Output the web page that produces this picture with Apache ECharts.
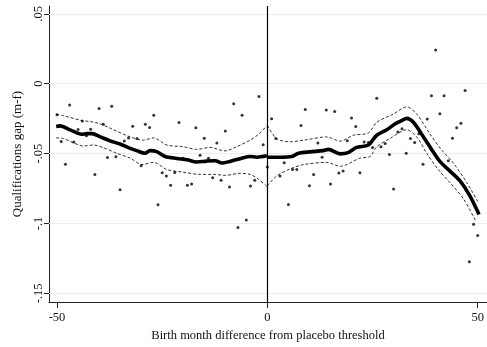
<!DOCTYPE html>
<html>
<head>
<meta charset="utf-8">
<script src="https://cdn.jsdelivr.net/npm/echarts@6/dist/echarts.min.js"></script>
<style>
  html, body { margin: 0; padding: 0; background: #fff; }
  #chart { width: 487px; height: 347px; }
</style>
</head>
<body>
<div id="chart"></div>
<script>
// Binned means of the qualifications gap by birth month distance
const months = [];
for (let m = -50; m <= 50; m++) months.push(m);
const binMeans = [
  -0.0223, -0.0414, -0.0577, -0.0153, -0.0418, -0.0327, -0.0267, -0.0372, -0.0326, -0.0649,
  -0.0177, -0.0291, -0.0528, -0.0162, -0.0523, -0.0759, -0.0411, -0.0389, -0.0304, -0.0393,
  -0.0587, -0.0290, -0.0313, -0.0225, -0.0866, -0.0638, -0.0661, -0.0726, -0.0635, -0.0278,
  -0.0533, -0.0726, -0.0717, -0.0316, -0.0512, -0.0390, -0.0533, -0.0673, -0.0425, -0.0691,
  -0.0339, -0.0740, -0.0143, -0.1029, -0.0225, -0.0976, -0.0733, -0.0691, -0.0092, -0.0437,
  -0.0596,
  -0.0250, -0.0392, -0.0661, -0.0566, -0.0864, -0.0614, -0.0614, -0.0299, -0.0185, -0.0731,
  -0.0649, -0.0425, -0.0526, -0.0188, -0.0717, -0.0199, -0.0640, -0.0624, -0.0409, -0.0246,
  -0.0306, -0.0638, -0.0418, -0.0420, -0.0456, -0.0105, -0.0451, -0.0428, -0.0507, -0.0754,
  -0.0346, -0.0323, -0.0498, -0.0393, -0.0421, -0.0358, -0.0577, -0.0253, -0.0087, 0.0241,
  -0.0215, -0.0087, -0.0551, -0.0390, -0.0316, -0.0283, -0.0048, -0.1274, -0.1006, -0.1087
];

// Local smooth below the threshold
const fitLeftX = [-50.2, -49.3, -46.9, -44.1, -42.9, -41.7, -39.7, -37.4, -35, -32.6, -30.9, -29.1, -27.9, -26.3, -24.3, -21.5, -19.1, -16.8, -14.4, -12.4, -10.8, -8.9, -6.1, -4.1, -2.5, -0.1];
const fitLeftY = [-0.0306, -0.0302, -0.0330, -0.0362, -0.0357, -0.0357, -0.0381, -0.0409, -0.0432, -0.0463, -0.0481, -0.0498, -0.0479, -0.0486, -0.0521, -0.0535, -0.0544, -0.0560, -0.0554, -0.0551, -0.0568, -0.0556, -0.0533, -0.0521, -0.0526, -0.0516];
const upLeftX = [-50.2, -48.5, -44.1, -42.1, -39.7, -37.4, -32.6, -29.5, -27.1, -23.9, -20, -16.8, -13.6, -10.1, -7.3, -4.1, -2.1, -0.1];
const upLeftY = [-0.0218, -0.0229, -0.0264, -0.0271, -0.0288, -0.0318, -0.0381, -0.0404, -0.0388, -0.0439, -0.0451, -0.0470, -0.0456, -0.0481, -0.0451, -0.0404, -0.0362, -0.0300];
const loLeftX = [-50.2, -48.5, -46.1, -43.7, -41.3, -39, -35.8, -32.6, -29.8, -27.1, -23.9, -20, -16, -12.8, -10, -6.5, -4.1, -2.1, -0.1];
const loLeftY = [-0.0388, -0.0392, -0.0423, -0.0446, -0.0439, -0.0458, -0.0498, -0.0533, -0.0579, -0.0563, -0.0614, -0.0633, -0.0649, -0.0649, -0.0656, -0.0642, -0.0649, -0.0684, -0.0735];

// Local smooth above the threshold
const fitRightX = [0, 3, 5.8, 7.4, 10.1, 13.3, 14.5, 17.3, 19.2, 21.2, 24, 26, 28.4, 30.3, 31.9, 33.1, 34.7, 37.1, 39.1, 41, 43.4, 45.8, 48.1, 50.3];
const fitRightY = [-0.0526, -0.0526, -0.0521, -0.0498, -0.0488, -0.0479, -0.0470, -0.0502, -0.0493, -0.0456, -0.0439, -0.0369, -0.0330, -0.0288, -0.0264, -0.0248, -0.0276, -0.0381, -0.0474, -0.0556, -0.0626, -0.0696, -0.0801, -0.0936];
const upRightX = [0, 2.2, 5.4, 8.6, 14.1, 17.3, 20.4, 24, 26, 29.9, 33.1, 35.5, 38.6, 41.4, 44.2, 47.4, 50.1];
const upRightY = [-0.0299, -0.0393, -0.0416, -0.0404, -0.0381, -0.0411, -0.0369, -0.0353, -0.0276, -0.0218, -0.0166, -0.0218, -0.0358, -0.0474, -0.0568, -0.0708, -0.0848];
const loRightX = [0, 2.2, 5.4, 8.6, 14.1, 17.3, 22, 24.4, 26, 29.1, 33.1, 35.5, 37.9, 40.6, 43.4, 46.6, 49.6];
const loRightY = [-0.0731, -0.0661, -0.0610, -0.0579, -0.0563, -0.0591, -0.0533, -0.0521, -0.0451, -0.0393, -0.0330, -0.0381, -0.0498, -0.0614, -0.0708, -0.0824, -0.0987];

// Axis ticks
const xTicks = [-50, 0, 50];
const yTicks = [-0.15, -0.1, -0.05, 0, 0.05];
const yTickLabels = ['-.15', '-.1', '-.05', '0', '.05'];

const pairs = (xs, ys) => xs.map((x, i) => [x, ys[i]]);
const font = 'Liberation Serif';

const fitLine = (xs, ys) => ({
  type: 'line', data: pairs(xs, ys), showSymbol: false, smooth: 0.3, z: 4,
  lineStyle: { color: '#000', width: 3.6 }, silent: true
});
const ciLine = (xs, ys) => ({
  type: 'line', data: pairs(xs, ys), showSymbol: false, smooth: 0.3, z: 3,
  lineStyle: { color: '#333', width: 1, type: [3, 2] }, silent: true
});

const chart = echarts.init(document.getElementById('chart'), null, { renderer: 'canvas' });
chart.setOption({
  animation: false,
  backgroundColor: '#fff',
  grid: { left: 49, right: 0, top: 6, bottom: 38 },
  xAxis: {
    type: 'value', min: -51.9, max: 52.2,
    name: 'Birth month difference from placebo threshold',
    nameLocation: 'middle', nameGap: 25,
    nameTextStyle: { fontFamily: font, fontSize: 12.5, color: '#111' },
    axisLine: { show: true, onZero: false, lineStyle: { color: '#222', width: 1 } },
    axisTick: { show: true, customValues: xTicks, length: 6, lineStyle: { color: '#222' } },
    axisLabel: { customValues: xTicks, fontFamily: font, fontSize: 12.5, color: '#111', margin: 9 },
    splitLine: { show: false }
  },
  yAxis: {
    type: 'value', min: -0.1563, max: 0.0556,
    name: 'Qualifications gap (m-f)',
    nameLocation: 'middle', nameGap: 23, nameRotate: 90,
    nameTextStyle: { fontFamily: font, fontSize: 13, color: '#111' },
    axisLine: { show: true, onZero: false, lineStyle: { color: '#222', width: 1 } },
    axisTick: { show: true, customValues: yTicks, length: 5, lineStyle: { color: '#222' } },
    axisLabel: {
      customValues: yTicks, rotate: 90, fontFamily: font, fontSize: 12.5, color: '#111', margin: 4,
      formatter: v => {
        const i = yTicks.findIndex(t => Math.abs(t - v) < 1e-9);
        return i >= 0 ? yTickLabels[i] : '';
      }
    },
    splitLine: { show: false }
  },
  series: [
    {
      type: 'scatter', data: pairs(months, binMeans), symbolSize: 3, z: 5,
      itemStyle: { color: '#000' }, silent: true,
      markLine: {
        silent: true, symbol: 'none', label: { show: false }, z: 1,
        lineStyle: { color: '#e5eef0', width: 1, type: 'solid' },
        data: yTicks.map(t => ({ yAxis: t }))
      }
    },
    {
      type: 'line', data: [], silent: true,
      markLine: {
        silent: true, symbol: 'none', label: { show: false }, z: 6,
        lineStyle: { color: '#000', width: 1.2, type: 'solid' },
        data: [{ xAxis: 0 }]
      }
    },
    fitLine(fitLeftX, fitLeftY),
    fitLine(fitRightX, fitRightY),
    ciLine(upLeftX, upLeftY),
    ciLine(loLeftX, loLeftY),
    ciLine(upRightX, upRightY),
    ciLine(loRightX, loRightY)
  ]
});
</script>
</body>
</html>
